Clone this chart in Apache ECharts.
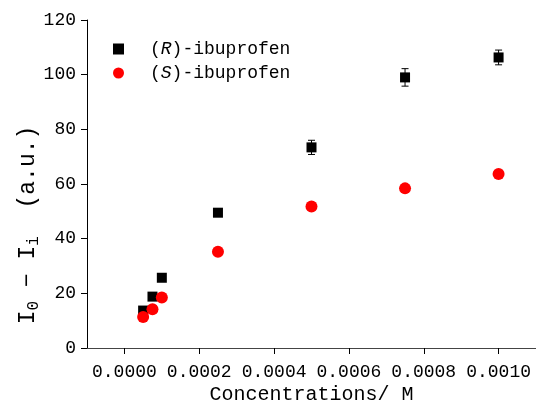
<!DOCTYPE html>
<html>
<head>
<meta charset="utf-8">
<script src="https://cdn.jsdelivr.net/npm/echarts@6/dist/echarts.min.js"></script>
<style>html,body{margin:0;padding:0;background:#fff}#c{width:536px;height:407px}</style>
</head>
<body>
<div id="c"></div>
<script>
var concentrations = [0.00005, 0.000075, 0.0001, 0.00025, 0.0005, 0.00075, 0.001];
var rValues = [13.7, 18.8, 25.7, 49.5, 73.4, 99.0, 106.3];
var rErrors = [1.0, 1.0, 1.2, 1.0, 2.6, 3.2, 2.7];
var sValues = [11.3, 14.2, 18.5, 35.2, 51.8, 58.4, 63.7];
var xTicks = [0, 0.0002, 0.0004, 0.0006, 0.0008, 0.0010];
var seriesNames = ['(R)-ibuprofen', '(S)-ibuprofen'];

var FONT = '"Liberation Mono", monospace';
var chart = echarts.init(document.getElementById('c'), null, {renderer: 'canvas'});

function pairs(xs, ys) { return xs.map(function (x, i) { return [x, ys[i]]; }); }
var errData = concentrations.map(function (x, i) { return [x, rValues[i] - rErrors[i], rValues[i] + rErrors[i]]; });

chart.setOption({
  animation: false,
  backgroundColor: '#fff',
  grid: {left: 87, top: 20, right: 0, bottom: 59, containLabel: false, outerBoundsMode: 'none'},
  legend: {
    orient: 'vertical', left: 108, top: 35, itemGap: 6,
    itemWidth: 11, itemHeight: 11,
    data: [{name: seriesNames[0], icon: 'rect'}, {name: seriesNames[1], icon: 'circle'}],
    formatter: function (n) { return n.replace(/\((R|S)\)/, '({it|$1})'); },
    textStyle: {fontFamily: FONT, fontSize: 18, color: '#000', padding: [0, 0, 0, 21],
      rich: {it: {fontFamily: FONT, fontSize: 18, fontStyle: 'italic', color: '#000'}}}
  },
  xAxis: [{
    type: 'value', min: -0.0001, max: 0.0011,
    name: 'Concentrations/ M', nameLocation: 'middle', nameGap: 37, nameMoveOverlap: false,
    nameTextStyle: {fontFamily: FONT, fontSize: 20, color: '#000'},
    axisLine: {show: true, onZero: false, lineStyle: {color: '#000', width: 1}},
    axisTick: {show: true, length: 6, customValues: xTicks, lineStyle: {color: '#000'}},
    axisLabel: {customValues: xTicks, margin: 15, fontFamily: FONT, fontSize: 18, color: '#000',
      formatter: function (v) { return v.toFixed(4); }},
    splitLine: {show: false}
  }, {
    type: 'value', position: 'top', min: -0.0001, max: 0.0011,
    axisLine: {show: true, lineStyle: {color: '#444', width: 1}},
    axisTick: {show: false}, axisLabel: {show: false}, splitLine: {show: false}
  }],
  yAxis: [{
    type: 'value', min: 0, max: 120, interval: 20,
    name: 'I{sub|0} − I{sub|i}  (a.u.)', nameLocation: 'middle', nameGap: 45, nameRotate: 90,
    nameMoveOverlap: false,
    nameTextStyle: {fontFamily: FONT, fontSize: 23, color: '#000', padding: [0, 82, 0, 0],
      rich: {sub: {fontFamily: FONT, fontSize: 16, color: '#000', verticalAlign: 'bottom', padding: [12, 0, 0, 0]}}},
    axisLine: {show: true, onZero: false, lineStyle: {color: '#000', width: 1}},
    axisTick: {show: true, length: 6, lineStyle: {color: '#000'}},
    axisLabel: {margin: 11, fontFamily: FONT, fontSize: 18, color: '#000'},
    splitLine: {show: false}
  }],
  series: [{
    name: seriesNames[0], type: 'scatter', symbol: 'rect', symbolSize: 10,
    itemStyle: {color: '#000', opacity: 1}, data: pairs(concentrations, rValues), z: 3
  }, {
    name: seriesNames[1], type: 'scatter', symbol: 'circle', symbolSize: 12,
    itemStyle: {color: '#ff0000', opacity: 1}, data: pairs(concentrations, sValues), z: 4
  }, {
    type: 'custom', name: 'err', z: 2,
    renderItem: function (params, api) {
      var lo = api.coord([api.value(0), api.value(1)]);
      var hi = api.coord([api.value(0), api.value(2)]);
      var w = 3.5;
      var st = {stroke: '#000', lineWidth: 1};
      return {type: 'group', children: [
        {type: 'line', shape: {x1: lo[0], y1: lo[1], x2: hi[0], y2: hi[1]}, style: st},
        {type: 'line', shape: {x1: lo[0] - w, y1: lo[1], x2: lo[0] + w, y2: lo[1]}, style: st},
        {type: 'line', shape: {x1: hi[0] - w, y1: hi[1], x2: hi[0] + w, y2: hi[1]}, style: st}
      ]};
    },
    encode: {x: 0, y: [1, 2]},
    data: errData
  }]
});
</script>
</body>
</html>
